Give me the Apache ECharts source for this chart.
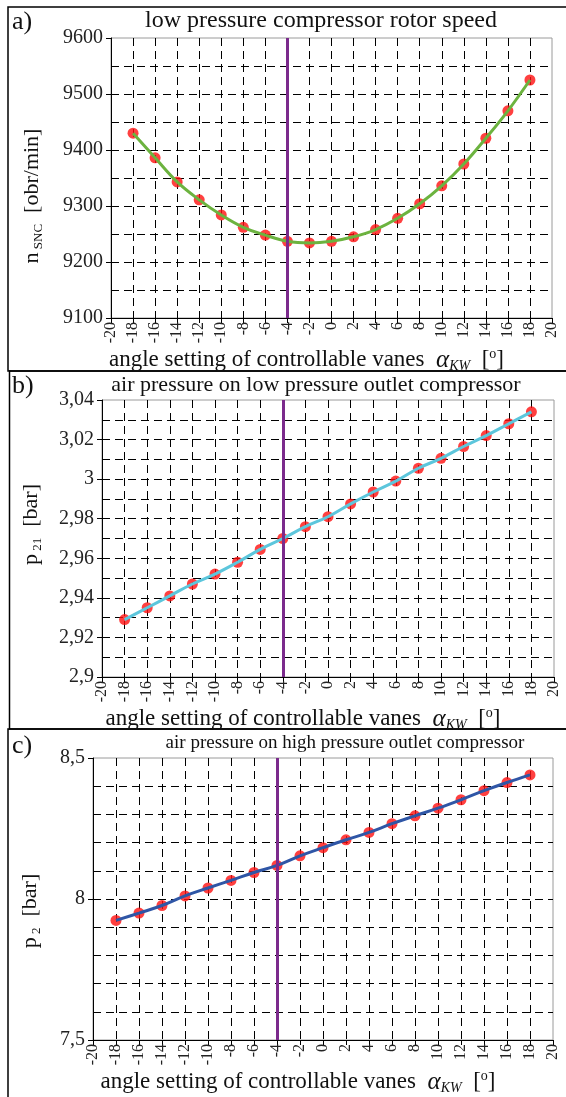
<!DOCTYPE html>
<html>
<head>
<meta charset="utf-8">
<script src="https://cdn.jsdelivr.net/npm/echarts@6/dist/echarts.min.js"></script>
<style>
  html, body { margin: 0; padding: 0; background: #fff; }
  #chart { width: 566px; height: 1097px; }
</style>
</head>
<body>
<div id="chart"></div>
<script>
// angle setting of controllable vanes [deg]
var angles = [-18, -16, -14, -12, -10, -8, -6, -4, -2, 0, 2, 4, 6, 8, 10, 12, 14, 16, 18];
// a) low pressure compressor rotor speed [obr/min]
var rotorSpeed = [9430, 9386, 9343, 9311, 9284, 9262, 9248, 9237, 9234, 9237, 9245, 9258, 9278, 9304, 9336, 9375, 9421, 9470, 9525];
// b) air pressure on low pressure outlet compressor [bar]
var lowPressure = [2.929, 2.935, 2.941, 2.947, 2.952, 2.958, 2.9645, 2.970, 2.976, 2.981, 2.9875, 2.9935, 2.999, 3.0055, 3.0105, 3.0165, 3.022, 3.028, 3.034];
// c) air pressure on high pressure outlet compressor [bar]
var highPressure = [7.924, 7.950, 7.977, 8.011, 8.039, 8.066, 8.094, 8.119, 8.153, 8.182, 8.210, 8.236, 8.267, 8.295, 8.322, 8.352, 8.384, 8.413, 8.440];
var vaneSetting = -4;

var serif = 'Liberation Serif';

function pairs(ys) {
    return angles.map(function (a, i) { return [a, ys[i]]; });
}
function comma(v) {
    return String(+v.toFixed(2)).replace('.', ',');
}

var grids = [
    {left: 111, top: 38, width: 441, height: 280},
    {left: 102, top: 400, width: 452, height: 277},
    {left: 93, top: 758, width: 460, height: 282}
];

var dash = [8, 5];
var xName = '{t|angle setting of controllable vanes  }{a|\u03b1}{k|KW}{t|  [}{o|o}{t|]}';
var xRich = {
    t: {fontFamily: serif, fontSize: 23, color: '#111', lineHeight: 26, verticalAlign: 'middle'},
    a: {fontFamily: serif, fontSize: 25, fontStyle: 'italic', color: '#111', lineHeight: 26, verticalAlign: 'middle'},
    k: {fontFamily: serif, fontSize: 14, fontStyle: 'italic', color: '#111', lineHeight: 14, verticalAlign: 'bottom'},
    o: {fontFamily: serif, fontSize: 14, color: '#111', lineHeight: 14, verticalAlign: 'top'}
};

function xAxisFor(i, gap) {
    return {
        type: 'value', gridIndex: i, min: -20, max: 20, interval: 2,
        axisLine: {show: true, onZero: false, lineStyle: {color: '#000', width: 1}},
        axisTick: {show: true, length: 5, lineStyle: {color: '#000'}},
        axisLabel: {rotate: 90, fontFamily: serif, fontSize: 16, color: '#222', margin: 4},
        splitLine: {show: true, showMinLine: false, showMaxLine: false, lineStyle: {color: '#000', type: dash, width: 1}},
        name: xName, nameLocation: 'middle', nameGap: gap,
        nameTextStyle: {rich: xRich, padding: [0, 50, 0, 0]}
    };
}

function yAxisFor(i, min, max, interval, minor, name, gap, pad) {
    return {
        type: 'value', gridIndex: i, min: min, max: max, interval: interval,
        axisLine: {show: true, onZero: false, lineStyle: {color: '#000', width: 1}},
        axisTick: {show: true, length: 5, lineStyle: {color: '#000'}},
        minorTick: {show: false, splitNumber: minor},
        axisLabel: {fontFamily: serif, fontSize: 20, color: '#222', margin: 8, formatter: comma},
        splitLine: {show: true, showMinLine: false, showMaxLine: false, lineStyle: {color: '#000', type: dash, width: 1}},
        minorSplitLine: {show: true, lineStyle: {color: '#000', type: dash, width: 1}},
        name: name, nameLocation: 'middle', nameGap: gap, nameRotate: 90,
        nameTextStyle: {
            padding: pad,
            rich: {
                t: {fontFamily: serif, fontSize: 22, color: '#111', lineHeight: 26, verticalAlign: 'middle'},
                s: {fontFamily: serif, fontSize: 13, color: '#111', lineHeight: 13, verticalAlign: 'bottom'}
            }
        }
    };
}

function dots(i, ys) {
    return {
        type: 'scatter', xAxisIndex: i, yAxisIndex: i, data: pairs(ys),
        symbolSize: 11, itemStyle: {color: '#ff1010'}, z: 3, silent: true
    };
}
function curve(i, ys, color) {
    return {
        type: 'line', xAxisIndex: i, yAxisIndex: i, data: pairs(ys),
        smooth: 0.4, showSymbol: false, lineStyle: {color: color, width: 3}, z: 4, silent: true,
        markLine: {
            symbol: 'none', silent: true, label: {show: false},
            lineStyle: {color: '#7b2a8c', width: 3, type: 'solid'},
            data: [{xAxis: vaneSetting}]
        }
    };
}

function gridBox(g) {
    return {
        show: true, left: g.left, top: g.top, width: g.width, height: g.height,
        borderColor: '#9a9a9a', borderWidth: 1, backgroundColor: 'transparent'
    };
}

var chart = echarts.init(document.getElementById('chart'), null, {renderer: 'canvas'});
chart.setOption({
    backgroundColor: '#fff',
    animation: false,
    grid: grids.map(gridBox),
    xAxis: [xAxisFor(0, 27), xAxisFor(1, 25), xAxisFor(2, 27)],
    yAxis: [
        yAxisFor(0, 9100, 9600, 100, 2, '{t|n}{s| SNC}{t|  [obr/min]}', 66, [0, 36, 0, 0]),
        yAxisFor(1, 2.9, 3.04, 0.02, 2, '{t|p}{s| 21}{t|  [bar]}', 58, [0, 0, 0, 28]),
        yAxisFor(2, 7.5, 8.5, 0.5, 5, '{t|p}{s| 2}{t|  [bar]}', 50, [0, 24, 0, 0])
    ],
    series: [
        dots(0, rotorSpeed), curve(0, rotorSpeed, '#6cb33f'),
        dots(1, lowPressure), curve(1, lowPressure, '#5cc6dc'),
        dots(2, highPressure), curve(2, highPressure, '#2f56a6')
    ],
    graphic: [
        {type: 'rect', shape: {x: 8, y: 7, width: 570, height: 364}, style: {fill: 'none', stroke: '#000', lineWidth: 1.5}, silent: true},
        {type: 'rect', shape: {x: 9.5, y: 371, width: 570, height: 358}, style: {fill: 'none', stroke: '#000', lineWidth: 1.5}, silent: true},
        {type: 'rect', shape: {x: 8, y: 729, width: 570, height: 380}, style: {fill: 'none', stroke: '#000', lineWidth: 1.5}, silent: true},
        {type: 'text', x: 12, y: 22, style: {text: 'a)', font: '26px "Liberation Serif"', fill: '#111', textVerticalAlign: 'middle'}},
        {type: 'text', x: 12, y: 386, style: {text: 'b)', font: '26px "Liberation Serif"', fill: '#111', textVerticalAlign: 'middle'}},
        {type: 'text', x: 12, y: 746, style: {text: 'c)', font: '26px "Liberation Serif"', fill: '#111', textVerticalAlign: 'middle'}},
        {type: 'text', x: 321, y: 21, style: {text: 'low pressure compressor rotor speed', font: '24px "Liberation Serif"', fill: '#111', textAlign: 'center', textVerticalAlign: 'middle'}},
        {type: 'text', x: 316, y: 385, style: {text: 'air pressure on low pressure outlet compressor', font: '22px "Liberation Serif"', fill: '#111', textAlign: 'center', textVerticalAlign: 'middle'}},
        {type: 'text', x: 345, y: 743, style: {text: 'air pressure on high pressure outlet compressor', font: '19px "Liberation Serif"', fill: '#111', textAlign: 'center', textVerticalAlign: 'middle'}}
    ]
});
</script>
</body>
</html>
